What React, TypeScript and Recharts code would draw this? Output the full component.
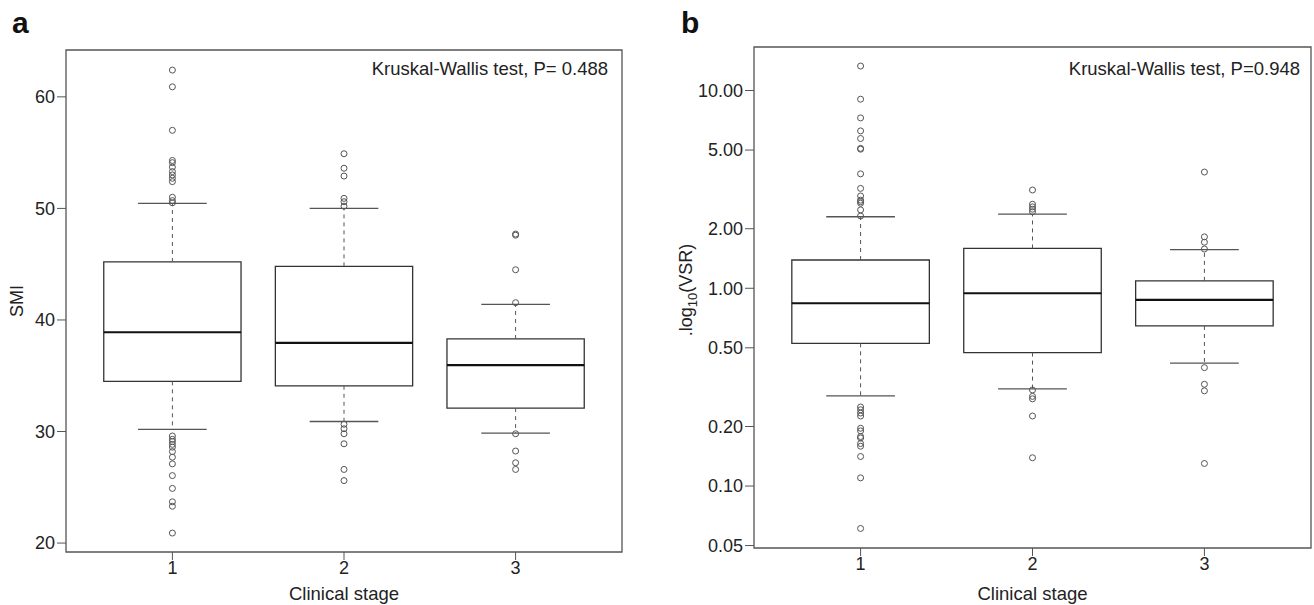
import {
  ComposedChart,
  XAxis,
  YAxis,
  Scatter,
  ReferenceArea,
  ReferenceLine,
} from 'recharts';

const stages = [1, 2, 3];
const xDomain = [0.38, 3.62];

// panel a: SMI
const smiTicks = [20, 30, 40, 50, 60];
const smiDomain = [19.2, 64.2];
const smiQ1 = [34.5, 34.1, 32.1];
const smiMedian = [38.9, 37.95, 35.95];
const smiQ3 = [45.2, 44.8, 38.3];
const smiLowWhisker = [30.2, 30.9, 29.85];
const smiHighWhisker = [50.45, 50.0, 41.4];
const smiOutliers1 = [
  62.4, 60.9, 57.0, 54.3, 54.1, 53.7, 53.3, 53.0, 52.7, 52.4, 51.0, 50.7, 50.5,
  29.6, 29.3, 29.1, 28.85, 28.6, 28.2, 27.7, 27.1, 26.05, 24.9, 23.7, 23.3, 20.9,
];
const smiOutliers2 = [54.9, 53.6, 52.9, 50.9, 50.6, 50.2, 30.65, 30.25, 29.8, 28.9, 26.6, 25.6];
const smiOutliers3 = [47.7, 47.6, 44.5, 41.55, 29.8, 28.25, 27.2, 26.6];

// panel b: VSR (log scale)
const vsrTicks = [0.05, 0.1, 0.2, 0.5, 1, 2, 5, 10];
const vsrDomain = [0.0486, 16.6];
const vsrQ1 = [0.527, 0.473, 0.645];
const vsrMedian = [0.84, 0.944, 0.873];
const vsrQ3 = [1.39, 1.59, 1.09];
const vsrLowWhisker = [0.286, 0.31, 0.418];
const vsrHighWhisker = [2.3, 2.37, 1.57];
const vsrOutliers1 = [
  13.3, 9.04, 7.27, 6.25, 5.72, 5.1, 5.05, 3.79, 3.2, 2.93, 2.79, 2.74, 2.69, 2.49, 2.32,
  0.251, 0.243, 0.234, 0.226, 0.196, 0.19, 0.178, 0.175, 0.164, 0.159, 0.141, 0.11, 0.061,
];
const vsrOutliers2 = [3.14, 2.66, 2.58, 2.51, 2.44, 0.306, 0.284, 0.276, 0.226, 0.139];
const vsrOutliers3 = [3.87, 1.82, 1.71, 1.58, 0.397, 0.327, 0.303, 0.13];

const FONT = "'Liberation Sans', Arial, sans-serif";
const BOX_HALF = 0.4;
const CAP_HALF = 0.2;

const OutlierDot = (props: any) => (
  <circle cx={props.cx} cy={props.cy} r={3} fill='none' stroke='#555' strokeWidth={1} />
);

interface PanelProps {
  letter: string;
  testText: string;
  yLabel: any;
  yLabelX: number;
  yLabelY: number;
  width: number;
  margin: { top: number; right: number; left: number; bottom: number };
  yAxisWidth: number;
  xAxisHeight: number;
  log?: boolean;
  domain: number[];
  ticks: number[];
  q1: number[];
  median: number[];
  q3: number[];
  lowWhisker: number[];
  highWhisker: number[];
  outliers: number[][];
  letterX: number;
  testX: number;
}

const BoxPanel = (p: PanelProps) => {
  const points = stages.flatMap((s, i) => p.outliers[i].map((v) => ({ x: s, y: v })));
  const tick = { fill: '#222', fontSize: 18, fontFamily: FONT };

  return (
    <ComposedChart width={p.width} height={605} margin={p.margin}>
      <XAxis
        type='number'
        dataKey='x'
        domain={xDomain}
        ticks={stages}
        allowDataOverflow
        axisLine={false}
        tickLine={{ stroke: '#555' }}
        tickSize={8}
        tickMargin={1}
        height={p.xAxisHeight}
        tick={tick}
        label={{
          content: ({ viewBox }: any) => (
            <text
              x={viewBox.x + viewBox.width / 2}
              y={600}
              textAnchor='middle'
              fill='#222'
              fontSize={18.5}
              fontFamily={FONT}
            >
              Clinical stage
            </text>
          ),
        }}
      />
      <YAxis
        type='number'
        dataKey='y'
        scale={p.log ? 'log' : 'linear'}
        domain={p.domain}
        ticks={p.ticks}
        allowDataOverflow
        axisLine={false}
        tickLine={{ stroke: '#555' }}
        tickSize={9}
        tickMargin={2}
        width={p.yAxisWidth}
        tick={tick}
        tickFormatter={(v: number) => (p.log ? v.toFixed(2) : String(v))}
        label={{
          content: () => (
            <text
              x={p.yLabelX}
              y={p.yLabelY}
              transform={`rotate(-90, ${p.yLabelX}, ${p.yLabelY})`}
              textAnchor='middle'
              fill='#222'
              fontSize={18}
              fontFamily={FONT}
            >
              {p.yLabel}
            </text>
          ),
        }}
      />

      {/* plot frame */}
      <ReferenceArea
        x1={xDomain[0]}
        x2={xDomain[1]}
        y1={p.domain[0]}
        y2={p.domain[1]}
        fill='none'
        stroke='#555'
        strokeWidth={1.3}
        ifOverflow='visible'
      />

      {stages.map((s, i) => (
        <ReferenceLine
          key={`wu${s}`}
          segment={[{ x: s, y: p.q3[i] }, { x: s, y: p.highWhisker[i] }]}
          stroke='#555'
          strokeDasharray='4 4'
        />
      ))}
      {stages.map((s, i) => (
        <ReferenceLine
          key={`wl${s}`}
          segment={[{ x: s, y: p.q1[i] }, { x: s, y: p.lowWhisker[i] }]}
          stroke='#555'
          strokeDasharray='4 4'
        />
      ))}
      {stages.map((s, i) => (
        <ReferenceLine
          key={`cu${s}`}
          segment={[{ x: s - CAP_HALF, y: p.highWhisker[i] }, { x: s + CAP_HALF, y: p.highWhisker[i] }]}
          stroke='#555'
          strokeWidth={1.3}
        />
      ))}
      {stages.map((s, i) => (
        <ReferenceLine
          key={`cl${s}`}
          segment={[{ x: s - CAP_HALF, y: p.lowWhisker[i] }, { x: s + CAP_HALF, y: p.lowWhisker[i] }]}
          stroke='#555'
          strokeWidth={1.3}
        />
      ))}
      {stages.map((s, i) => (
        <ReferenceArea
          key={`b${s}`}
          x1={s - BOX_HALF}
          x2={s + BOX_HALF}
          y1={p.q1[i]}
          y2={p.q3[i]}
          fill='#fff'
          fillOpacity={1}
          stroke='#333'
          strokeWidth={1.3}
        />
      ))}
      {stages.map((s, i) => (
        <ReferenceLine
          key={`m${s}`}
          segment={[{ x: s - BOX_HALF, y: p.median[i] }, { x: s + BOX_HALF, y: p.median[i] }]}
          stroke='#111'
          strokeWidth={2.2}
        />
      ))}

      <Scatter data={points} isAnimationActive={false} shape={OutlierDot} />

      <text x={p.letterX} y={33} fontSize={30} fontWeight='bold' fontFamily={FONT} fill='#111'>
        {p.letter}
      </text>
      <text x={p.testX} y={75} textAnchor='end' fontSize={18.5} fontFamily={FONT} fill='#222'>
        {p.testText}
      </text>
    </ComposedChart>
  );
};

export default function App() {
  return (
    <div style={{ position: 'absolute', left: 0, top: 0, width: 1314, height: 605, background: '#fff' }}>
      <div style={{ position: 'absolute', left: 0, top: 0 }}>
        <BoxPanel
          letter='a'
          letterX={12}
          testText='Kruskal-Wallis test, P= 0.488'
          testX={608}
          yLabel='SMI'
          yLabelX={23}
          yLabelY={301}
          width={660}
          margin={{ top: 50, right: 38, left: 0, bottom: 0 }}
          yAxisWidth={66}
          xAxisHeight={53}
          domain={smiDomain}
          ticks={smiTicks}
          q1={smiQ1}
          median={smiMedian}
          q3={smiQ3}
          lowWhisker={smiLowWhisker}
          highWhisker={smiHighWhisker}
          outliers={[smiOutliers1, smiOutliers2, smiOutliers3]}
        />
      </div>
      <div style={{ position: 'absolute', left: 660, top: 0 }}>
        <BoxPanel
          letter='b'
          letterX={21}
          testText='Kruskal-Wallis test, P=0.948'
          testX={640}
          yLabel={
            <>
              .log
              <tspan fontSize={13} dy={5}>10</tspan>
              <tspan dy={-5}>(VSR)</tspan>
            </>
          }
          yLabelX={32}
          yLabelY={290}
          width={654}
          margin={{ top: 47, right: 3, left: 0, bottom: 0 }}
          yAxisWidth={94}
          xAxisHeight={57}
          log
          domain={vsrDomain}
          ticks={vsrTicks}
          q1={vsrQ1}
          median={vsrMedian}
          q3={vsrQ3}
          lowWhisker={vsrLowWhisker}
          highWhisker={vsrHighWhisker}
          outliers={[vsrOutliers1, vsrOutliers2, vsrOutliers3]}
        />
      </div>
    </div>
  );
}
